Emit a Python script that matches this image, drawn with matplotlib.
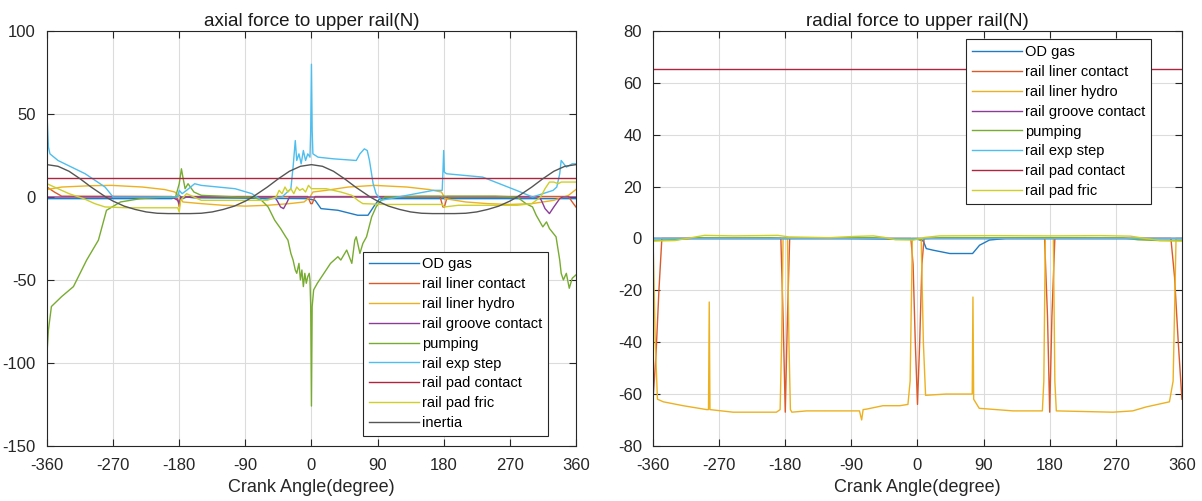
"""Axial / radial force on the upper rail vs crank angle (two panels, MATLAB look)."""
import matplotlib
matplotlib.use("Agg")
import matplotlib.pyplot as plt

plt.rcParams["font.family"] = ["Liberation Sans", "DejaVu Sans"]
plt.rcParams["axes.unicode_minus"] = False

labels = ["OD gas", "rail liner contact", "rail liner hydro", "rail groove contact",
          "pumping", "rail exp step", "rail pad contact", "rail pad fric", "inertia"]
colors = ["#1f7cc4", "#DA5A2A", "#EDB120", "#8A3C98", "#77AC30",
          "#4DBEEE", "#B0243E", "#CFCF2A", "#555555"]

# ---- axial force (left panel) ----
ax_od_ang = [-360, -190, -180, -175, -170, -160, -5, 0, 5, 13, 36, 63, 77, 86, 93, 360]
ax_od_val = [-1, -1, 1, -1, 0, -0.5, -1, -1.5, -2, -7, -8, -11, -11, -5, -1, -1]

ax_lc_ang = [-360, -350, -340, -190, -182, -180, -178, -170, -5, -1, 1, 5,
             175, 179, 181, 185, 350, 355, 360]
ax_lc_val = [6, 3, 0.5, 0.3, -1, -6, -1, 0.3, 0.3, -4, -4, 0.3,
             0.3, -6, -6, 0.3, 0.3, -3, -6]

ax_lh_ang = [-360, -340, -300, -272, -230, -200, -186, -181, -175, -150, -120, -90, -60, -30,
             -10, -2, 2, 20, 50, 86, 130, 160, 177, 182, 210, 240, 270, 300, 330, 350, 360]
ax_lh_val = [4.5, 6, 6.8, 7, 6, 4.5, 3, 1, -3, -4, -5, -5.5, -5, -4,
             -3, 0, 3, 4, 6, 7, 6, 4.5, 3, -1, -3, -4, -4.5, -4, -2, 1, 4.5]

ax_gc_ang = [-360, -190, -182, -180, -178, -50, -47, -42, -38, -33, -30,
             310, 313, 318, 324, 330, 338, 342, 360]
ax_gc_val = [0, 0, -2, -4, 0, 0, -2, -6, -7, -3, 0,
             0, -2, -7, -10, -6, -1, 0, 0]

ax_pu_ang = [-360, -358, -354, -340, -324, -306, -290, -279, -260, -233, -200, -185, -180,
             -177, -175, -172, -168, -160, -150, -100, -80, -68, -59, -50, -42, -35, -32,
             -28, -25, -22, -20, -17, -15, -13, -11, -9, -7, -5, -3, -2, -1, 0, 1, 3, 8,
             17, 26, 36, 40, 48, 55, 59, 61, 66, 70, 75, 82, 88, 93, 100, 150, 200, 250,
             280, 292, 301, 306, 315, 320, 324, 333, 338, 340, 343, 347, 351, 355, 360]
ax_pu_val = [-94, -80, -66, -60, -54, -38, -26, -8, -3, -1, 0, 0, 8,
             17, 12, 5, 8, 3, 1, 0, 0, -2, -6, -14, -19, -24, -26,
             -34, -38, -44, -46, -40, -50, -44, -54, -46, -52, -48, -46, -50, -66, -126, -66, -56, -52,
             -46, -40, -36, -38, -32, -40, -26, -24, -34, -28, -24, -12, -6, -3, 0, 0.5, 0.5, 0.5,
             0, -4, -6, -11, -18, -15, -19, -24, -38, -46, -50, -46, -55, -49, -47]

ax_es_ang = [-360, -358, -356, -345, -308, -281, -270, -200, -182, -180,
             -176, -170, -159, -150, -104, -81, -68, -40, -28, -25,
             -22, -20, -17, -14, -11, -8, -5, -2, -1, 0,
             1, 2, 9, 30, 61, 66, 72, 76, 79, 84,
             88, 95, 130, 166, 178, 179, 180, 181, 184, 233,
             279, 301, 315, 329, 334, 338, 340, 347, 355, 360]
ax_es_val = [50, 30, 26, 22, 14, 6, 0, 0, 0, 4,
             2, 4, 8, 7, 5, 2, -2, 0, 5, 18,
             34, 22, 26, 20, 28, 22, 26, 24, 40, 80,
             40, 26, 24, 23, 22, 26, 29, 28, 22, 8,
             2, -2, 1, 4, 4, 15, 28, 15, 14, 12,
             4, 0, 2, 4, 6, 14, 22, 18, 20, 20]

ax_pc_ang = [-360, 360]
ax_pc_val = [11.5, 11.5]

ax_pf_ang = [-360, -345, -330, -310, -295, -281, -250, -200, -182, -180,
             -178, -170, -160, -150, -100, -60, -48, -44, -40, -36,
             -32, -28, -24, -20, -16, -12, -8, -4, 0, 5,
             20, 40, 55, 63, 70, 100, 150, 178, 181, 200,
             250, 280, 300, 312, 318, 324, 330, 336, 340, 350, 360]
ax_pf_val = [8, 5, 2, -1, -4, -6, -6.5, -6.5, -6.5, -9,
             -2, 2, 0, -2, -2, -2, 0, 4, 2, 6,
             3, 5, 2, 6, 4, 5, 3, 7, 5, 5,
             5, 3, 1, -2, -4, -4.5, -4.5, -4.5, -6, -5,
             -5, -5, -4, 0, 5, 9, 9, 8, 9, 9, 9]

ax_in_ang = [-360, -345, -330, -315, -300, -280, -270, -255, -240, -225, -210, -195, -180,
             -165, -150, -135, -120, -105, -90, -80, -60, -45, -30, -15, 0,
             15, 30, 45, 60, 80, 90, 105, 120, 135, 150, 165, 180,
             195, 210, 225, 240, 255, 270, 280, 300, 315, 330, 345, 360]
ax_in_val = [19.5, 18.5, 15.5, 11, 6, 0, -2.5, -5.5, -7.5, -9, -9.8, -10, -10,
             -10, -9.8, -9, -7.5, -5.5, -2.5, 0, 6, 11, 15.5, 18.5, 19.5,
             18.5, 15.5, 11, 6, 0, -2.5, -5.5, -7.5, -9, -9.8, -10, -10,
             -10, -9.8, -9, -7.5, -5.5, -2.5, 0, 6, 11, 15.5, 18.5, 19.5]

# ---- radial force (right panel) ----
ra_od_ang = [-360, -200, -100, 0, 8, 12, 21, 44, 75, 84.5, 98, 120, 360]
ra_od_val = [0, 0, 0, -0.3, -1, -3.9, -4.5, -5.8, -5.8, -2.6, -0.6, 0, 0]

ra_lc_ang = [-360, -356, -352, -348, -340, -186, -183, -180, -177, -174, -9, -6, -3, 0,
             3, 6, 9, 173, 177, 180, 183, 187, 345, 350, 355, 360]
ra_lc_val = [-62, -45, -20, 0, 0, 0, -30, -67, -30, 0, 0, -10, -40, -64,
             -40, -10, 0, 0, -30, -67, -30, 0, 0, -15, -40, -62]

ra_lh_ang = [-360, -357, -354, -346, -319, -287, -284.5, -283.5, -282.5, -251,
             -192, -187, -185, -183, -177, -175, -173, -171, -151, -79,
             -76, -74, -69, -47, -24, -13, -10, -7, 5, 8,
             11, 39, 74.5, 75.5, 76.5, 84, 130, 170, 172, 174,
             185, 187, 189, 266, 293, 311, 343, 348, 352, 360]
ra_lh_val = [0, -40, -62, -63, -64.5, -66, -66, -24.5, -66, -67,
             -67, -66, -40, 0, 0, -40, -66, -67, -66.5, -66.5,
             -70, -66, -65.8, -64.5, -64.5, -64, -55, 0, 0, -40,
             -60.5, -60, -60, -22.6, -62, -65.5, -66.5, -66.5, -55, 0,
             0, -55, -66.5, -67, -66.5, -65, -63, -55, 0, 0]

ra_gc_ang = [-360, 360]
ra_gc_val = [0, 0]

ra_pu_ang = [-360, -330, -300, -250, -200, -180, -120, -60, -30, 0, 30, 100, 200, 280, 300, 330, 360]
ra_pu_val = [-0.8, -0.5, 0.3, 0.2, 0.3, 0, 0.2, 0.3, -0.3, -0.3, 0.3, 0.3, 0.3, 0.2, -0.5, -0.8, -0.8]

ra_es_ang = [-360, 360]
ra_es_val = [0, 0]

ra_pc_ang = [-360, 360]
ra_pc_val = [65.5, 65.5]

ra_pf_ang = [-360, -330, -310, -290, -250, -190, -175, -120, -85, -60, -45,
             -30, -5, 10, 30, 100, 180, 250, 290, 310, 330, 360]
ra_pf_val = [-1, -0.8, 0.2, 1.2, 1, 1.2, 0.6, 0.3, 0.8, 1, 0.4,
             -0.5, -0.6, 0.4, 1, 1.1, 1, 1.1, 0.9, 0, -0.8, -1]

axial = [(ax_od_ang, ax_od_val), (ax_lc_ang, ax_lc_val), (ax_lh_ang, ax_lh_val),
         (ax_gc_ang, ax_gc_val), (ax_pu_ang, ax_pu_val), (ax_es_ang, ax_es_val),
         (ax_pc_ang, ax_pc_val), (ax_pf_ang, ax_pf_val), (ax_in_ang, ax_in_val)]
radial = [(ra_od_ang, ra_od_val), (ra_lc_ang, ra_lc_val), (ra_lh_ang, ra_lh_val),
          (ra_gc_ang, ra_gc_val), (ra_pu_ang, ra_pu_val), (ra_es_ang, ra_es_val),
          (ra_pc_ang, ra_pc_val), (ra_pf_ang, ra_pf_val)]

xticks = [-360, -270, -180, -90, 0, 90, 180, 270, 360]

fig = plt.figure(figsize=(12.02, 5.01), dpi=100)
ax1 = fig.add_axes([0.0391, 0.110, 0.440, 0.828])
ax2 = fig.add_axes([0.5433, 0.110, 0.440, 0.828])


def style(ax, title, yticks):
    ax.set_xlim(-360, 360)
    ax.set_xticks(xticks)
    ax.set_yticks(yticks)
    ax.set_ylim(yticks[0], yticks[-1])
    ax.grid(True, color="#dcdcdc", linewidth=0.8)
    ax.set_axisbelow(True)
    ax.tick_params(direction="in", top=True, right=True, length=5, width=0.8,
                   labelsize=12, colors="#262626")
    ax.tick_params(axis="x", pad=9)
    ax.tick_params(axis="y", pad=8)
    for s in ax.spines.values():
        s.set_color("#262626")
        s.set_linewidth(0.8)
    ax.set_title(title, fontsize=13.5, color="#1a1a1a", pad=4)
    ax.set_xlabel("Crank Angle(degree)", fontsize=13, color="#262626", labelpad=4)


for (a, v), c, lab in zip(axial, colors, labels):
    ax1.plot(a, v, color=c, lw=1.0, label=lab)
style(ax1, "axial force to upper rail(N)", [-150, -100, -50, 0, 50, 100])
leg1 = ax1.legend(loc="lower right", bbox_to_anchor=(0.947, 0.024), fontsize=10.5,
                  handlelength=3.4, labelspacing=0.4, borderpad=0.4, handletextpad=0.2,
                  fancybox=False, framealpha=1, edgecolor="#262626", borderaxespad=0)
leg1.get_frame().set_linewidth(0.8)

for (a, v), c, lab in zip(radial, colors, labels):
    ax2.plot(a, v, color=c, lw=1.0, label=lab)
style(ax2, "radial force to upper rail(N)", [-80, -60, -40, -20, 0, 20, 40, 60, 80])
leg2 = ax2.legend(loc="upper right", bbox_to_anchor=(0.941, 0.980), fontsize=10.5,
                  handlelength=3.4, labelspacing=0.4, borderpad=0.4, handletextpad=0.2,
                  fancybox=False, framealpha=1, edgecolor="#262626", borderaxespad=0)
leg2.get_frame().set_linewidth(0.8)

fig.savefig("out.png", dpi=100)
